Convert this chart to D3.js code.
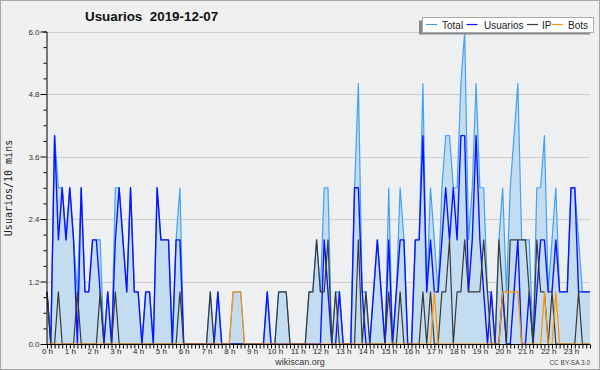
<!DOCTYPE html>
<html>
<head>
<meta charset="utf-8">
<script src="https://cdn.jsdelivr.net/npm/d3@7"></script>
<style>
  body { margin: 0; background: #fff; }
  svg text { font-family: "Liberation Sans", Arial, sans-serif; }
</style>
</head>
<body>
<svg id="chart" width="600" height="370"></svg>
<script>
  // one value every 10 minutes, 144 slots for the day
  var slots = d3.range(144);
  var hourLabels = d3.range(24).map(function(h){ return h + " h"; });
  var yTicks = [0, 1.2, 2.4, 3.6, 4.8, 6.0];

  var usuarios = [
    1,0,4,2,3,2,3,2,0,3,1,1,2,2,1,0,1,0,2,3,2,1,3,1,
    1,0,1,1,0,3,2,2,2,0,2,2,0,0,0,0,0,0,0,0,0,1,0,0,
    0,0,0,0,0,0,0,0,0,0,1,0,0,0,0,0,0,0,0,0,0,0,0,0,
    0,2,1,0,0,1,0,0,0,3,3,1,0,0,1,2,1,0,2,0,1,2,2,0,
    0,2,2,4,1,2,1,1,2,3,2,3,2,4,4,1,2,4,2,1,0,1,0,0,
    1,0,0,1,2,0,0,1,0,1,2,2,1,1,2,1,1,1,3,3,1,1,1,1
  ];
  var ip = [
    1,0,0,1,0,0,0,0,1,0,0,0,0,0,1,0,0,0,1,0,0,0,0,0,
    0,0,0,0,0,0,0,0,0,0,0,1,0,0,0,0,0,0,0,1,0,0,0,0,
    0,0,0,0,0,0,0,0,0,0,0,0,0,1,1,1,0,0,0,0,0,1,1,2,
    1,1,2,0,1,0,0,0,0,0,2,0,1,0,0,0,0,0,1,0,0,1,0,0,
    0,0,0,1,0,1,0,0,1,1,2,0,1,1,2,1,1,1,1,2,1,0,0,2,
    1,0,2,2,2,2,2,1,0,2,1,1,0,1,0,0,0,0,0,0,1,0,0,0
  ];
  var bots = [
    0,0,0,0,0,0,0,0,0,0,0,0,0,0,0,0,0,0,0,0,0,0,0,0,
    0,0,0,0,0,0,0,0,0,0,0,0,0,0,0,0,0,0,0,0,0,0,0,0,
    0,1,1,1,0,0,0,0,0,0,0,0,0,0,0,0,0,0,0,0,0,0,0,0,
    0,0,0,0,0,0,0,0,0,0,0,0,0,0,0,0,0,0,0,0,0,0,0,0,
    0,0,0,0,0,0,1,0,0,0,0,0,0,0,0,0,0,0,0,0,0,0,0,0,
    1,1,1,1,1,0,0,0,0,0,0,1,0,0,1,0,0,0,0,0,0,0,0,0
  ];
  var total = [
    1,0,4,3,3,2,3,2,1,3,1,1,2,2,2,0,1,0,3,3,2,1,3,1,
    1,0,1,1,0,3,2,2,2,0,2,3,0,0,0,0,0,0,0,1,0,1,0,0,
    0,1,1,1,0,0,0,0,0,0,1,0,0,1,1,1,0,0,0,0,0,1,1,2,
    1,3,3,0,1,1,0,0,0,3,5,1,1,0,1,2,1,0,3,0,1,3,2,0,
    0,2,2,5,1,3,2,1,3,4,4,3,3,5,6,2,3,5,3,3,1,1,0,2,
    3,1,3,4,5,2,2,2,0,3,3,4,1,2,3,1,1,1,3,3,2,1,1,1
  ];

  var svg = d3.select("#chart");

  // background and frame
  svg.append("rect")
    .attr("x", 0.5).attr("y", 0.5)
    .attr("width", 599).attr("height", 369)
    .attr("fill", "#f0f0f0")
    .attr("stroke", "#a8a8a8");

  var plotL = 47, plotR = 590, plotT = 31.5, plotB = 344;

  var x = d3.scaleLinear().domain([0, 143]).range([plotL, plotR]);
  var y = d3.scaleLinear().domain([0, 6]).range([plotB, plotT]);

  // plot background
  svg.append("rect")
    .attr("x", x(0)).attr("y", y(6))
    .attr("width", x(143) - x(0)).attr("height", y(0) - y(6))
    .attr("fill", "#eeeff1");

  // grid
  svg.append("g").selectAll("line")
    .data(yTicks.slice(1))
    .enter().append("line")
    .attr("x1", x(0)).attr("x2", x(143))
    .attr("y1", function(d){ return Math.round(y(d)) + 0.5; })
    .attr("y2", function(d){ return Math.round(y(d)) + 0.5; })
    .attr("stroke", "#cccccc");

  // area + lines
  var area = d3.area()
    .x(function(d, i){ return x(i); })
    .y0(y(0))
    .y1(function(d){ return y(d); });

  var line = d3.line()
    .x(function(d, i){ return x(i); })
    .y(function(d){ return y(d); });

  svg.append("path")
    .datum(total)
    .attr("d", area)
    .attr("fill", "#c4dcf0");

  var series = [
    {name: "Total", values: total, color: "#42a2f2", width: 1.2},
    {name: "Usuarios", values: usuarios, color: "#0a14ff", width: 1.4},
    {name: "IP", values: ip, color: "#3a3a3a", width: 1.2},
    {name: "Bots", values: bots, color: "#ff9400", width: 1.2}
  ];

  series.forEach(function(s){
    svg.append("path")
      .datum(s.values)
      .attr("d", line)
      .attr("fill", "none")
      .attr("stroke", s.color)
      .attr("stroke-width", s.width)
      .attr("stroke-linejoin", "round");
  });

  // y axis
  var minor = d3.range(0, 6.01, 0.3).map(function(v){ return +v.toFixed(1); });
  var yAxis = d3.axisLeft(y)
    .tickValues(minor)
    .tickSizeOuter(0)
    .tickSize(3)
    .tickFormat("");
  var gy = svg.append("g")
    .attr("transform", "translate(" + (plotL - 0.5) + ",0)")
    .call(yAxis);
  gy.selectAll(".tick line")
    .attr("x2", function(d){ return (Math.round(d * 10) % 12 === 0) ? -6 : -3; });
  gy.selectAll(".tick").filter(function(d){ return Math.round(d * 10) % 12 === 0; })
    .append("text")
    .attr("x", -7).attr("dy", "0.32em")
    .attr("fill", "#333")
    .attr("text-anchor", "end")
    .style("font-size", "8px")
    .text(function(d){ return d.toFixed(1); });
  gy.select(".domain").attr("stroke", "#000");

  // x axis
  var xAxis = d3.axisBottom(x)
    .tickValues(slots)
    .tickSizeOuter(0)
    .tickSize(4)
    .tickFormat(function(d){ return d % 6 === 0 ? hourLabels[d / 6] : ""; });
  var gx = svg.append("g")
    .attr("transform", "translate(0," + (plotB + 0.5) + ")")
    .call(xAxis);
  gx.select(".domain").attr("d", "M" + (plotL - 6) + ",0H" + plotR).attr("stroke", "#000");
  gx.selectAll(".tick text")
    .attr("y", 4)
    .attr("fill", "#222")
    .style("font-size", "8px");

  // title
  svg.append("text")
    .attr("x", 85).attr("y", 21)
    .style("font-size", "13.4px")
    .style("font-weight", "bold")
    .style("white-space", "pre")
    .attr("fill", "#111")
    .text("Usuarios  2019-12-07");

  // y label
  svg.append("text")
    .attr("transform", "translate(12,188) rotate(-90)")
    .attr("text-anchor", "middle")
    .style("font-family", "'DejaVu Sans Mono', monospace")
    .style("font-size", "10px")
    .attr("fill", "#222")
    .text("Usuarios/10 mins");

  // legend
  var lg = svg.append("g");
  lg.append("rect")
    .attr("x", 419).attr("y", 20.5).attr("width", 171).attr("height", 14)
    .attr("fill", "#888");
  lg.append("rect")
    .attr("x", 422.5).attr("y", 17.5).attr("width", 171).attr("height", 15)
    .attr("fill", "#fff").attr("stroke", "#aaa");
  var legendX = [426, 466.5, 527, 552];
  var textX = [442, 484, 542, 568];
  series.forEach(function(s, i){
    lg.append("line")
      .attr("x1", legendX[i]).attr("x2", legendX[i] + 11)
      .attr("y1", 24.5).attr("y2", 24.5)
      .attr("stroke", s.color).attr("stroke-width", 1.2);
    lg.append("text")
      .attr("x", textX[i]).attr("y", 28.5)
      .style("font-size", "10px")
      .attr("fill", "#222")
      .text(s.name);
  });

  // footer
  svg.append("text")
    .attr("x", 300).attr("y", 365)
    .attr("text-anchor", "middle")
    .style("font-size", "9px")
    .attr("fill", "#333")
    .text("wikiscan.org");
  svg.append("text")
    .attr("x", 590).attr("y", 365)
    .attr("text-anchor", "end")
    .style("font-size", "6.5px")
    .attr("fill", "#444")
    .text("CC BY-SA 3.0");
</script>
</body>
</html>
